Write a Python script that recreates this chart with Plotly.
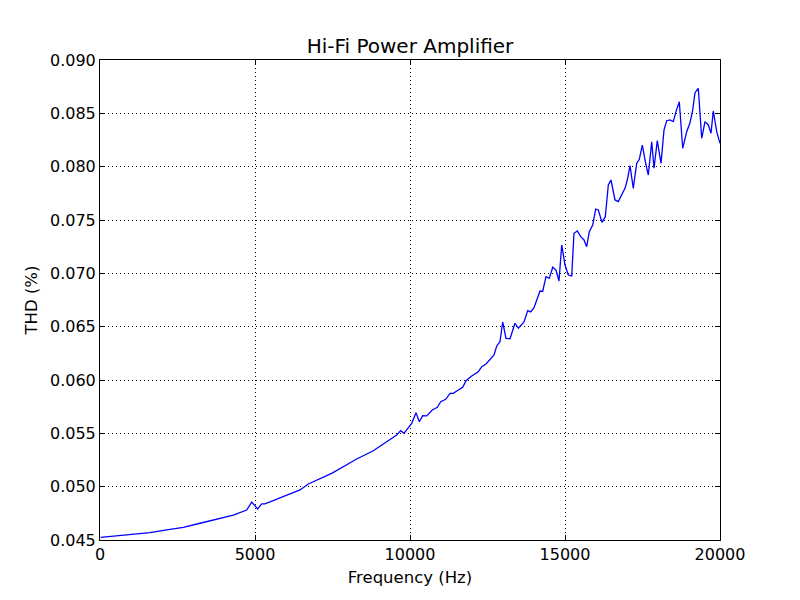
import plotly.graph_objects as go

freq_hz = [20, 538, 1075, 1613, 2151, 2688, 3226, 3763, 4301, 4731, 4894, 5087, 5216, 5323, 5913, 6452, 6719,
           7474, 8281, 8816, 9571,
           9700, 9806, 10055, 10194, 10300, 10410, 10539, 10719, 10881, 10990, 11152, 11290, 11397, 11558,
           11700, 11806, 11990, 12203, 12313, 12452, 12581, 12710, 12797, 12903, 12990, 13097, 13226, 13387,
           13494, 13677, 13797, 13894, 14000, 14194, 14281, 14387, 14494, 14603, 14710, 14806, 14894, 15000,
           15106, 15216, 15290, 15397, 15506, 15613, 15700, 15784, 15894, 15990, 16074, 16194, 16300, 16397,
           16484, 16613, 16719, 16829, 16935, 17010, 17097, 17203, 17313, 17397, 17494, 17603, 17687, 17797,
           17871, 17977, 18097, 18194, 18281, 18387, 18494, 18581, 18687, 18797, 18926, 19032, 19119, 19194,
           19300, 19410, 19516, 19623, 19710, 19784, 19894, 20000]
thd_pct = [0.04525, 0.04538, 0.04550, 0.04569, 0.04594, 0.04619, 0.04657, 0.04694, 0.04734, 0.04781, 0.04856,
           0.04791, 0.04838, 0.04838, 0.04906, 0.04969, 0.05025, 0.05125, 0.05259, 0.05337, 0.05484,
           0.05525, 0.05500, 0.05594, 0.05694, 0.05609, 0.05665,
           0.05663, 0.05719, 0.05744, 0.05797, 0.05819, 0.05875, 0.05875, 0.05906, 0.05932, 0.05993, 0.06038,
           0.06078, 0.06125, 0.06150, 0.06194, 0.06234, 0.06319, 0.06359, 0.06544, 0.06391, 0.06387, 0.06532,
           0.06485, 0.06544, 0.06650, 0.06638, 0.06678, 0.06834, 0.06832, 0.06969, 0.06953, 0.07057, 0.07031,
           0.06928, 0.07266, 0.07078, 0.06984, 0.06975, 0.07375, 0.07397, 0.07344, 0.07313, 0.07250, 0.07390,
           0.07453, 0.07603, 0.07594, 0.07478, 0.07531, 0.07828, 0.07875, 0.07688, 0.07672, 0.07734, 0.07797,
           0.07875, 0.08009, 0.07797, 0.08031, 0.08069, 0.08203, 0.08031, 0.07922, 0.08234, 0.07985, 0.08244,
           0.08031, 0.08344, 0.08431, 0.08438, 0.08422, 0.08516, 0.08609, 0.08172, 0.08328, 0.08412, 0.08531,
           0.08694, 0.08735, 0.08266, 0.08422, 0.08391, 0.08313, 0.08522, 0.08328, 0.08219]

x_ticks = [0, 5000, 10000, 15000, 20000]
y_ticks = [0.045, 0.050, 0.055, 0.060, 0.065, 0.070, 0.075, 0.080, 0.085, 0.090]

font = "DejaVu Sans, sans-serif"

fig = go.Figure(go.Scatter(x=freq_hz, y=thd_pct, mode="lines",
                           line=dict(color="#0000ff", width=1.3)))

axis_common = dict(showline=True, linecolor="black", linewidth=1, mirror="ticks",
                   ticks="inside", ticklen=5, tickcolor="black",
                   showgrid=True, gridcolor="black", gridwidth=1, griddash="1px,3px",
                   zeroline=False, tickfont=dict(family=font, size=16, color="black"))

fig.update_layout(
    width=800, height=600,
    paper_bgcolor="white", plot_bgcolor="white",
    margin=dict(l=100, r=80, t=60, b=60),
    showlegend=False,
    title=dict(text="Hi-Fi Power Amplifier", x=0.5125, xanchor="center",
               y=1 - 46 / 600, yref="container", yanchor="middle",
               font=dict(family=font, size=20, color="black")),
    xaxis=dict(range=[0, 20000], tickvals=x_ticks, ticktext=[str(v) for v in x_ticks],
               title=dict(text="Frequency (Hz)", font=dict(family=font, size=16.5, color="black"), standoff=8),
               **axis_common),
    yaxis=dict(range=[0.045, 0.090], tickvals=y_ticks, ticktext=[f"{v:.3f}" for v in y_ticks],
               title=dict(text="THD (%)", font=dict(family=font, size=16.5, color="black"), standoff=8),
               **axis_common),
)

fig.write_html("out.html")
